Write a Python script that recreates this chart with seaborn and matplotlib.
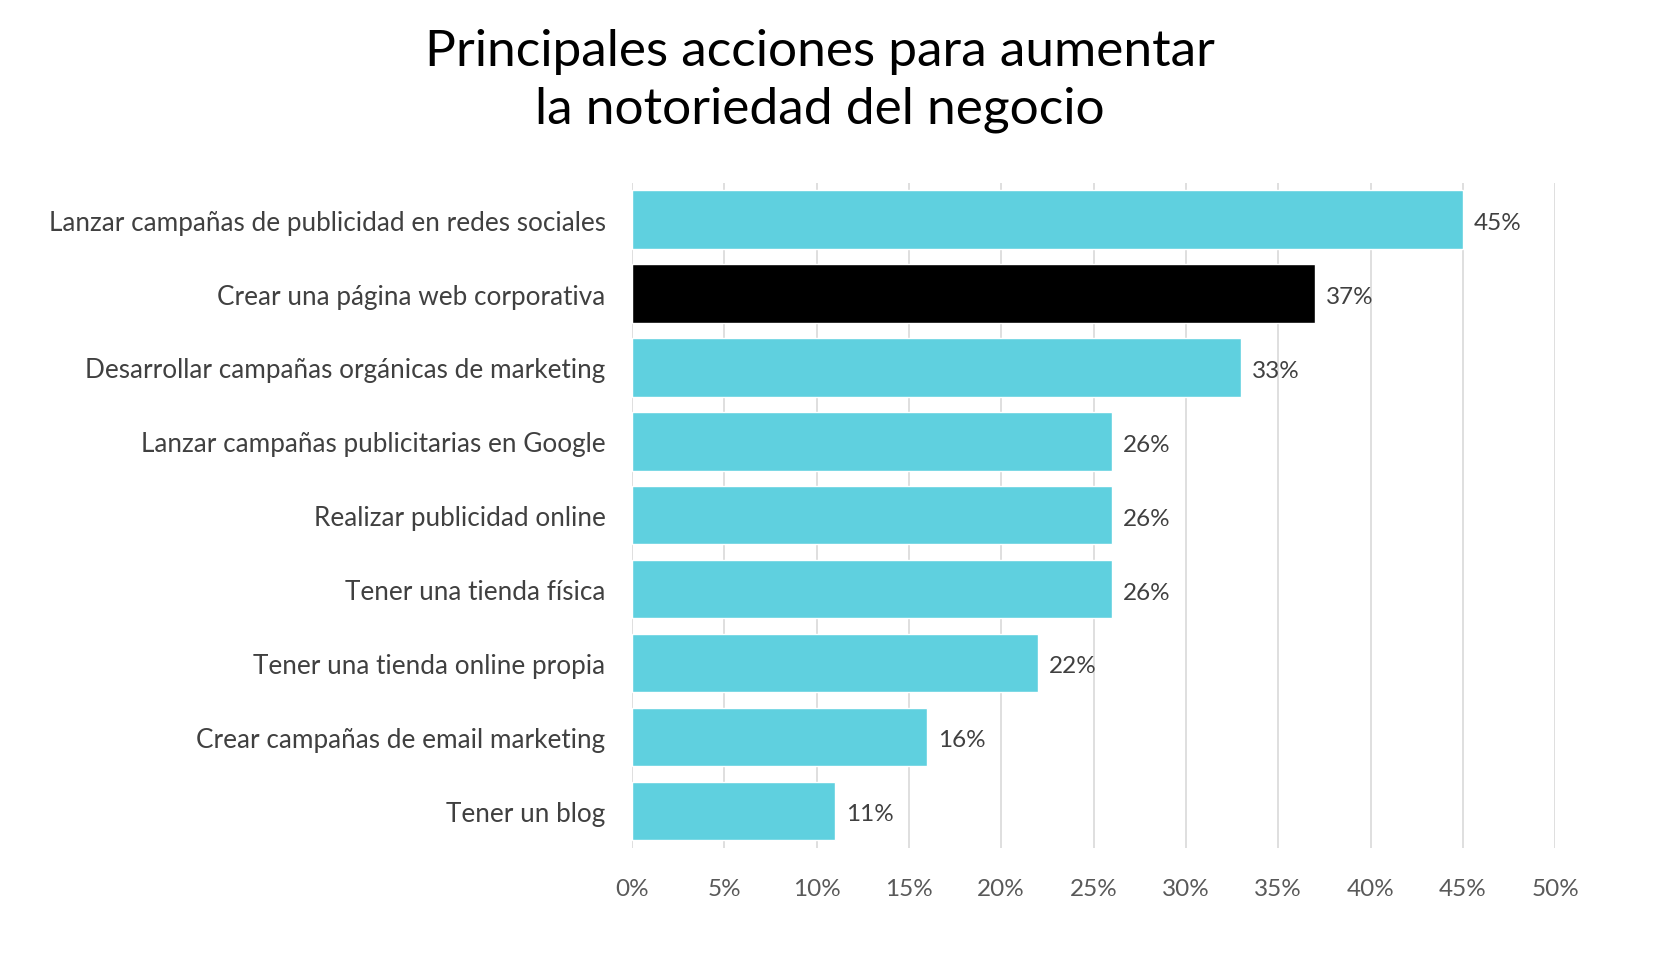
import matplotlib
matplotlib.use("Agg")
import matplotlib.pyplot as plt
import seaborn as sns
import pandas as pd
from matplotlib.ticker import PercentFormatter

categories = [
    "Lanzar campañas de publicidad en redes sociales",
    "Crear una página web corporativa",
    "Desarrollar campañas orgánicas de marketing",
    "Lanzar campañas publicitarias en Google",
    "Realizar publicidad online",
    "Tener una tienda física",
    "Tener una tienda online propia",
    "Crear campañas de email marketing",
    "Tener un blog",
]
values = [45, 37, 33, 26, 26, 26, 22, 16, 11]
highlight = "Crear una página web corporativa"
x_ticks = [0, 5, 10, 15, 20, 25, 30, 35, 40, 45, 50]

df = pd.DataFrame({"accion": categories, "pct": values})
palette = {c: ("#000000" if c == highlight else "#5FD0DF") for c in categories}

sns.set_style("white")
plt.rcParams["font.family"] = ["Lato", "DejaVu Sans"]

fig = plt.figure(figsize=(16.74, 9.54), dpi=100)
ax = fig.add_axes([0.3775, 0.1104, 0.5515, 0.697])

sns.barplot(data=df, x="pct", y="accion", hue="accion", palette=palette,
            order=categories, width=0.79, legend=False, ax=ax, saturation=1)

ax.set_xlim(0, 50)
ax.set_ylim(len(categories) - 0.5, -0.5)
ax.set_xticks(x_ticks)
ax.xaxis.set_major_formatter(PercentFormatter(decimals=0))
ax.grid(axis="x", color="#d9d9d9", linewidth=1.2)
ax.set_axisbelow(True)
for s in ax.spines.values():
    s.set_visible(False)
ax.tick_params(axis="x", length=0, pad=22, labelsize=17.5, labelcolor="#595959")
ax.tick_params(axis="y", length=0, pad=19, labelsize=18.8, labelcolor="#404040")
ax.set_xlabel("")
ax.set_ylabel("")

for i, v in enumerate(values):
    ax.text(v + 0.6, i + 0.04, f"{v}%", va="center", ha="left",
            fontsize=17.5, color="#404040")

fig.text(0.49, 0.915, "Principales acciones para aumentar\nla notoriedad del negocio",
         ha="center", va="center", fontsize=37, color="#000000", linespacing=1.33)

fig.savefig("out.png", dpi=100)
